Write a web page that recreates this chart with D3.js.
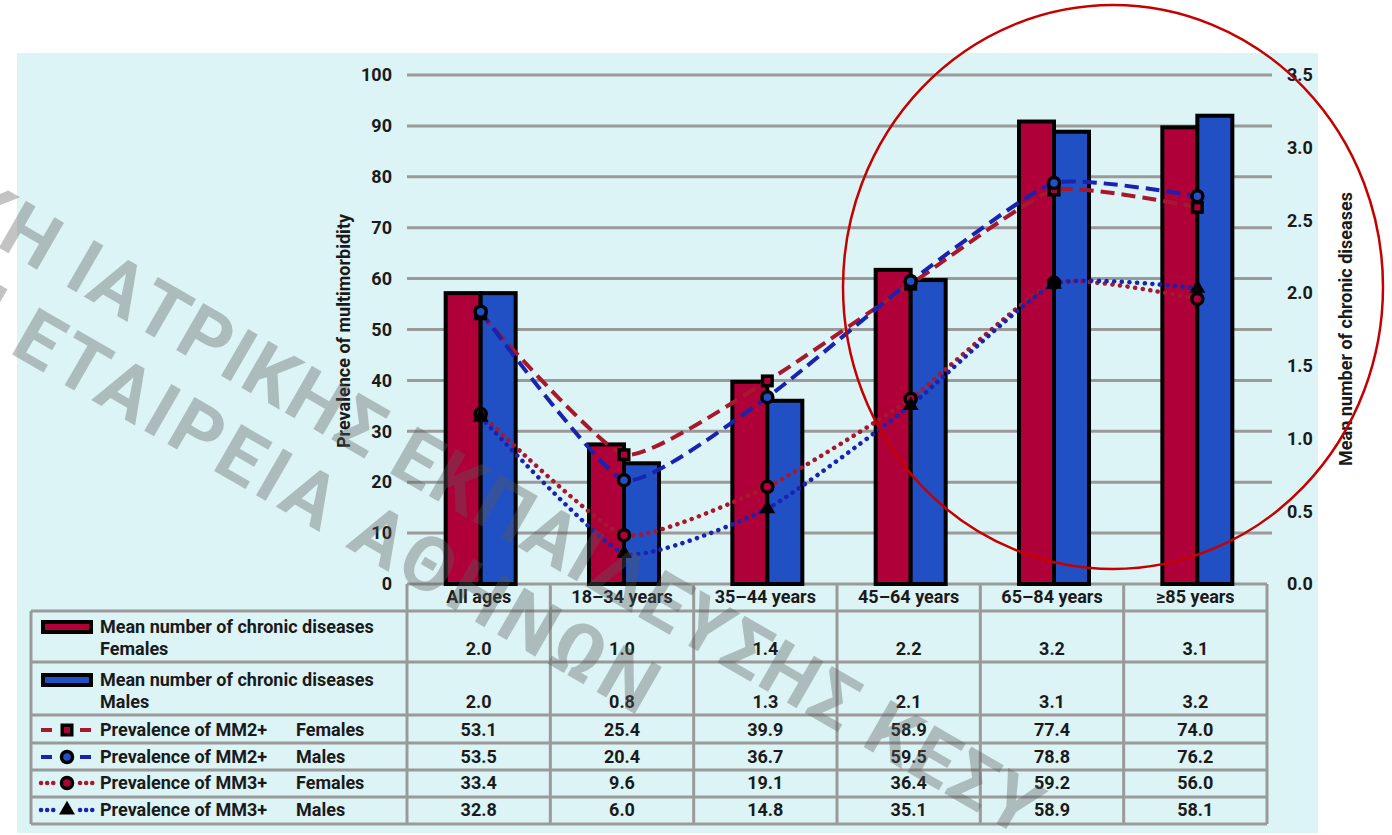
<!DOCTYPE html>
<html>
<head>
<meta charset="utf-8">
<script src="https://cdn.jsdelivr.net/npm/d3@7"></script>
<style>
  body { margin: 0; background: #fff; }
  text { font-family: Roboto, "DejaVu Sans", sans-serif; font-weight: 700; fill: #1a1a1a; }
</style>
</head>
<body>
<div id="chart"></div>
<script>
// data
var categories = ["All ages", "18–34 years", "35–44 years", "45–64 years", "65–84 years", "≥85 years"];
// mean number of chronic diseases (right axis), bar heights
var meanFemales = [2.0, 0.96, 1.39, 2.16, 3.18, 3.14];
var meanMales   = [2.0, 0.83, 1.26, 2.09, 3.11, 3.22];
// prevalence of multimorbidity (left axis, %)
var mm2Females = [53.1, 25.4, 39.9, 58.9, 77.4, 74.0];
var mm2Males   = [53.5, 20.4, 36.7, 59.5, 78.8, 76.2];
var mm3Females = [33.4, 9.6, 19.1, 36.4, 59.2, 56.0];
var mm3Males   = [32.8, 6.0, 14.8, 35.1, 58.9, 58.1];
var leftTicks  = [0, 10, 20, 30, 40, 50, 60, 70, 80, 90, 100];
var rightTicks = [0, 0.5, 1, 1.5, 2, 2.5, 3, 3.5];

var W = 1392, H = 835;
var red = "#b0003a", blue = "#2150c4";
var lineRed = "#a8182c", lineBlue = "#1a22b0";
var grid = "#9a9a9a";
var fs = "18px";

var svg = d3.select("#chart").append("svg")
  .attr("width", W).attr("height", H)
  .attr("viewBox", `0 0 ${W} ${H}`);

// panel background
svg.append("rect")
  .attr("x", 17).attr("y", 53).attr("width", 1301).attr("height", 780)
  .attr("fill", "#dcf4f5");

// scales
var x0 = d3.scaleBand().domain(categories).range([407, 1267]);
var xb = d3.scaleBand().domain(categories).range([409, 1269]);
var cx = d => xb(d) + xb.bandwidth() / 2;
var yL = d3.scaleLinear().domain([0, 100]).range([584, 75]);
var yR = d3.scaleLinear().domain([0, 3.5]).range([584, 75]);

// gridlines
svg.append("g").selectAll("line")
  .data(leftTicks.filter(d => d > 0))
  .join("line")
  .attr("x1", 407).attr("x2", 1272)
  .attr("y1", d => yL(d)).attr("y2", d => yL(d))
  .attr("stroke", grid).attr("stroke-width", 3);

// axes
var axL = svg.append("g")
  .attr("transform", "translate(407,0)")
  .call(d3.axisLeft(yL).tickValues(leftTicks).tickSize(0).tickPadding(15));
var axR = svg.append("g")
  .attr("transform", "translate(1272,0)")
  .call(d3.axisRight(yR).tickValues(rightTicks).tickSize(0).tickPadding(15).tickFormat(d3.format(".1f")));
[axL, axR].forEach(a => {
  a.select(".domain").remove();
  a.selectAll("text").style("font-size", fs).style("font-family", "Roboto").style("font-weight", 700).attr("fill", "#1a1a1a");
});

svg.append("text")
  .attr("transform", "translate(350,331) rotate(-90)")
  .attr("text-anchor", "middle")
  .style("font-size", fs)
  .text("Prevalence of multimorbidity");
svg.append("text")
  .attr("transform", "translate(1352,329) rotate(-90)")
  .attr("text-anchor", "middle")
  .style("font-size", fs)
  .text("Mean number of chronic diseases");

// table grid
var rowEdges = [611, 662, 715, 743, 770, 797, 824];
var tbl = svg.append("g").attr("stroke", grid).attr("stroke-width", 3);
tbl.append("line").attr("x1", 407).attr("x2", 1267).attr("y1", 584).attr("y2", 584);
rowEdges.forEach(y => {
  tbl.append("line").attr("x1", 31).attr("x2", 1267).attr("y1", y).attr("y2", y);
});
tbl.append("line").attr("x1", 31).attr("x2", 31).attr("y1", 611).attr("y2", 824);
categories.concat([null]).forEach(c => {
  var x = c ? x0(c) : 1267;
  tbl.append("line").attr("x1", x).attr("x2", x).attr("y1", 584).attr("y2", 824);
});

// bars
var barW = 35;
var bars = svg.append("g").attr("stroke", "#000").attr("stroke-width", 4);
bars.selectAll(".bf").data(categories).join("rect")
  .attr("x", d => cx(d) - barW).attr("width", barW)
  .attr("y", (d, i) => yR(meanFemales[i]))
  .attr("height", (d, i) => 584 - yR(meanFemales[i]))
  .attr("fill", red);
bars.selectAll(".bm").data(categories).join("rect")
  .attr("x", d => cx(d)).attr("width", barW)
  .attr("y", (d, i) => yR(meanMales[i]))
  .attr("height", (d, i) => 584 - yR(meanMales[i]))
  .attr("fill", blue);

// prevalence lines
var series = [
  {vals: mm2Females, color: lineRed, dash: "14,7", cap: "butt", w: 4, mark: "square", fill: red},
  {vals: mm2Males, color: lineBlue, dash: "14,7", cap: "butt", w: 4, mark: "circle", fill: blue},
  {vals: mm3Females, color: lineRed, dash: "0.1,7.5", cap: "round", w: 4.5, mark: "circle", fill: red},
  {vals: mm3Males, color: lineBlue, dash: "0.1,7.5", cap: "round", w: 4.5, mark: "triangle", fill: "#000"}
];
var line = d3.line().x((d, i) => cx(categories[i])).y(d => yL(d)).curve(d3.curveCardinal.tension(0.5));

series.forEach(s => {
  svg.append("path").datum(s.vals)
    .attr("d", line).attr("fill", "none")
    .attr("stroke", s.color).attr("stroke-width", s.w)
    .attr("stroke-dasharray", s.dash).attr("stroke-linecap", s.cap);
});

function marker(g, type, fill, x, y) {
  if (type === "square") {
    g.append("rect").attr("x", x - 6.5).attr("y", y - 6.5).attr("width", 13).attr("height", 13).attr("fill", "#000");
    g.append("rect").attr("x", x - 3).attr("y", y - 3).attr("width", 6).attr("height", 6).attr("fill", fill);
  } else if (type === "circle") {
    g.append("circle").attr("cx", x).attr("cy", y).attr("r", 5.5).attr("fill", fill).attr("stroke", "#000").attr("stroke-width", 3.5);
  } else {
    g.append("path").attr("transform", `translate(${x},${y})`)
      .attr("d", d3.symbol(d3.symbolTriangle, 110)).attr("fill", "#000");
  }
}
var marks = svg.append("g");
series.forEach(s => {
  s.vals.forEach((v, i) => marker(marks, s.mark, s.fill, cx(categories[i]), yL(v)));
});

// table text
var colC = c => x0(c) + x0.bandwidth() / 2;
var tt = svg.append("g").style("font-size", fs);
tt.selectAll(".cat").data(categories).join("text")
  .attr("x", colC).attr("y", 597).attr("dy", "0.35em")
  .attr("text-anchor", "middle").text(d => d);

var valueRows = [
  {vals: meanFemales, y: 649},
  {vals: meanMales, y: 702},
  {vals: mm2Females, y: 730},
  {vals: mm2Males, y: 757},
  {vals: mm3Females, y: 783},
  {vals: mm3Males, y: 810}
];
valueRows.forEach(r => {
  tt.append("g").selectAll("text").data(r.vals).join("text")
    .attr("x", (d, i) => colC(categories[i])).attr("y", r.y).attr("dy", "0.35em")
    .attr("text-anchor", "middle").text(d => d.toFixed(1));
});

// legend column
var lg = svg.append("g").style("font-size", fs);
[[red, 627, 649, "Females"], [blue, 680, 702, "Males"]].forEach(r => {
  lg.append("rect").attr("x", 43).attr("y", r[1] - 5).attr("width", 48).attr("height", 10)
    .attr("fill", r[0]).attr("stroke", "#000").attr("stroke-width", 4);
  lg.append("text").attr("x", 100).attr("y", r[1]).attr("dy", "0.35em").text("Mean number of chronic diseases");
  lg.append("text").attr("x", 100).attr("y", r[2]).attr("dy", "0.35em").text(r[3]);
});
var legRows = [
  [series[0], 730, "Prevalence of MM2+", "Females"],
  [series[1], 757, "Prevalence of MM2+", "Males"],
  [series[2], 783, "Prevalence of MM3+", "Females"],
  [series[3], 810, "Prevalence of MM3+", "Males"]
];
legRows.forEach(r => {
  var s = r[0], y = r[1];
  [[41, 55], [80, 94]].forEach(seg => {
    lg.append("line").attr("x1", seg[0]).attr("x2", seg[1]).attr("y1", y).attr("y2", y)
      .attr("stroke", s.color).attr("stroke-width", s.w)
      .attr("stroke-dasharray", s.cap === "round" ? "0.1,6" : "11,20")
      .attr("stroke-linecap", s.cap);
  });
  marker(lg, s.mark, s.fill, 67, y);
  lg.append("text").attr("x", 100).attr("y", y).attr("dy", "0.35em").text(r[2]);
  lg.append("text").attr("x", 296).attr("y", y).attr("dy", "0.35em").text(r[3]);
});

// watermark
var wmFill = "rgba(90,90,90,0.36)";
var wm = svg.append("g").style("font-size", "76px").style("font-weight", 500);
function wmLine(x, y, pre, main, spacing) {
  var g = wm.append("g").attr("transform", `translate(${x},${y}) rotate(30)`)
    .style("letter-spacing", spacing + "px");
  g.append("text").attr("x", -22).attr("text-anchor", "end").style("fill", wmFill).text(pre);
  g.append("text").attr("x", 0).style("fill", wmFill).text(main);
}
wmLine(62, 284, "ΕΠΙΣΤΗΜΟΝΙΚΗ", "ΙΑΤΡΙΚΗΣ ΕΚΠΑΙΔΕΥΣΗΣ ΚΕΣΥ", 2);
wmLine(8, 352, "ΙΑΤΡΙΚΗ", "ΕΤΑΙΡΕΙΑ ΑΘΗΝΩΝ", 5);

// highlight ellipse
svg.append("ellipse")
  .attr("cx", 1113).attr("cy", 287).attr("rx", 270).attr("ry", 282)
  .attr("fill", "none").attr("stroke", "#c40000").attr("stroke-width", 2.5);
</script>
</body>
</html>
